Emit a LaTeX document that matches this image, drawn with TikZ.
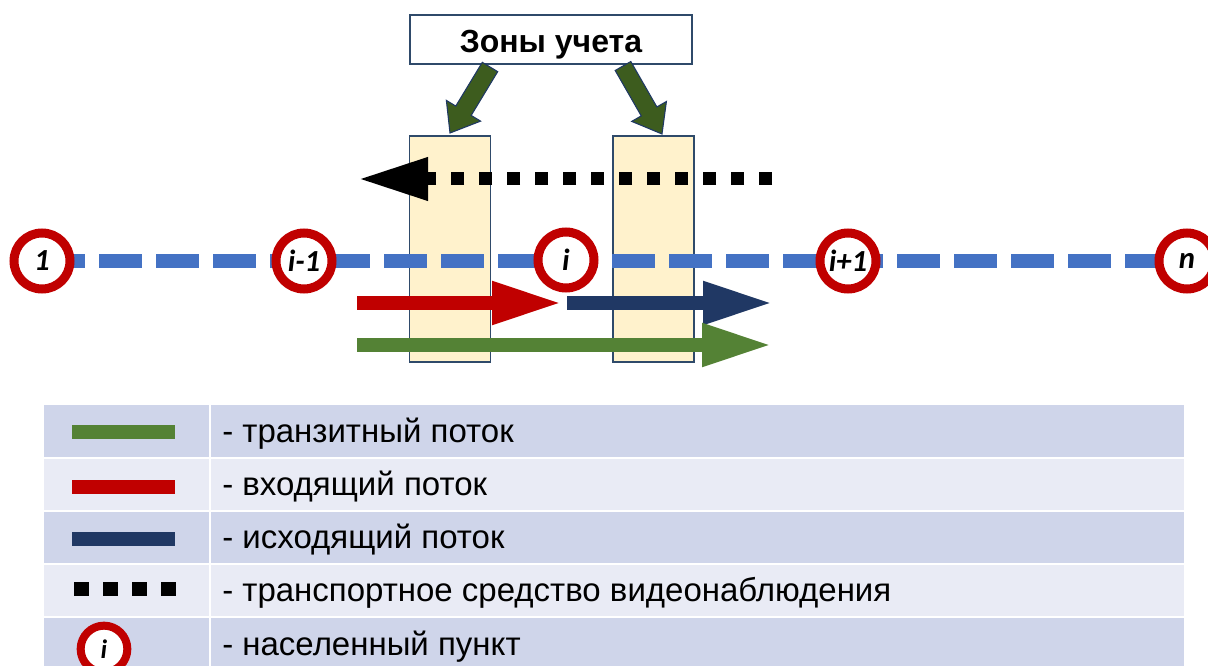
\documentclass[tikz,border=0pt]{standalone}
\usepackage{fontspec}
\setmainfont{Liberation Sans}
\newfontfamily\calib{Carlito}
\usetikzlibrary{arrows.meta,calc}
\definecolor{zonefill}{HTML}{FFF2CC}
\definecolor{zoneline}{HTML}{2F4A6A}
\definecolor{roadblue}{HTML}{4472C4}
\definecolor{ringred}{HTML}{C00000}
\definecolor{flowred}{HTML}{C00000}
\definecolor{flownavy}{HTML}{203864}
\definecolor{flowgreen}{HTML}{548235}
\definecolor{ptrgreen}{HTML}{3D5C1E}
\definecolor{ptrline}{HTML}{1F3864}
\definecolor{rowdark}{HTML}{CFD5EA}
\definecolor{rowlight}{HTML}{E9EBF5}
\pgfdeclarelayer{bg}
\pgfdeclarelayer{roadlayer}
\pgfsetlayers{bg,roadlayer,main}
\newcommand{\ptrarrow}[2]{%
  \path ($(#2)!19.5pt!(#1)$) coordinate (hb);
  \filldraw[pointer] ($(#1)!6.75pt!90:(#2)$) -- ($(hb)!6.75pt!90:(#2)$) -- ($(hb)!15pt!90:(#2)$) -- (#2)
    -- ($(hb)!15pt!-90:(#2)$) -- ($(hb)!6.75pt!-90:(#2)$) -- ($(#1)!6.75pt!-90:(#2)$) -- cycle;}
\begin{document}
\begin{tikzpicture}[x=0.75pt,y=-0.75pt,
  town/.style={circle, draw=ringred, fill=white, line width=6.75pt, minimum size=42pt, inner sep=0pt,
    font=\calib\bfseries\itshape\fontsize{23}{26}\selectfont},
  smalltown/.style={circle, draw=ringred, fill=white, line width=6pt, minimum size=35pt, inner sep=0pt,
    font=\calib\bfseries\itshape\fontsize{20}{22}\selectfont},
  zone/.style={draw=zoneline, fill=zonefill, line width=1.1pt, minimum width=60.75pt, minimum height=169.5pt, inner sep=0pt},
  titlebox/.style={draw=zoneline, fill=white, line width=1.1pt, minimum width=211.5pt, minimum height=36.75pt, inner sep=0pt,
    text height=18.8pt, text depth=0pt, font=\bfseries\fontsize{24}{28}\selectfont},
  pointer/.style={fill=ptrgreen, draw=ptrline, line width=0.8pt},
  road/.style={draw=roadblue, line width=10.5pt, dash pattern=on 32.25pt off 10.5pt},
  flow/.style={line width=10.5pt, -{Triangle[length=52.5pt, width=30pt]}},
  watch/.style={line width=9.75pt, dash pattern=on 9.75pt off 11.25pt, -{Triangle[length=52.5pt, width=30pt]}},
  legbar/.style={line width=10.5pt},
  legtext/.style={anchor=base west, inner sep=0pt, font=\fontsize{24.75}{28}\selectfont}]
\useasboundingbox (0,0) rectangle (1208,666);

% zones
\begin{pgfonlayer}{bg}
\node[zone] (zoneL) at (450,249) {};
\node[zone] (zoneR) at (653.5,249) {};
\end{pgfonlayer}

% title
\node[titlebox] (title) at (551,39.5) {Зоны учета};
\coordinate (pl0) at (490,67);
\coordinate (pl1) at (450,133);
\coordinate (pr0) at (623,66);
\coordinate (pr1) at (662,134);
\ptrarrow{pl0}{pl1}
\ptrarrow{pr0}{pr1}

% settlements
\node[town] (t1) at (42,261) {1};
\node[town] (tim) at (304,261) {i-1};
\node[town] (ti) at (566,260) {i};
\node[town] (tip) at (848,261) {i+1};
\node[town] (tn) at (1187,261) {n};
\begin{pgfonlayer}{roadlayer}
\draw[road] (t1.center) -- (tn.center);
\end{pgfonlayer}

% video surveillance vehicle
\coordinate (w0) at (772,179);
\coordinate (w1) at (358,179);
\draw[watch] (w0) -- (w1);

% flows
\coordinate (r0) at (357,303);
\coordinate (r1) at (562,303);
\coordinate (b0) at (567,303);
\coordinate (b1) at (773,303);
\coordinate (g0) at (357,345);
\coordinate (g1) at (772,345);
\draw[flow, flowred] (r0) -- (r1);
\draw[flow, flownavy] (b0) -- (b1);
\draw[flow, flowgreen] (g0) -- (g1);

% legend table
\fill[rowdark]  (44,405) rectangle (208.5,457);
\fill[rowdark]  (210.5,405) rectangle (1184,457);
\fill[rowlight] (44,459) rectangle (208.5,510);
\fill[rowlight] (210.5,459) rectangle (1184,510);
\fill[rowdark]  (44,512) rectangle (208.5,563);
\fill[rowdark]  (210.5,512) rectangle (1184,563);
\fill[rowlight] (44,565) rectangle (208.5,616);
\fill[rowlight] (210.5,565) rectangle (1184,616);
\fill[rowdark]  (44,618) rectangle (208.5,670);
\fill[rowdark]  (210.5,618) rectangle (1184,670);

\draw[legbar, flowgreen] (72,432) -- (175,432);
\draw[legbar, flowred] (72,487) -- (175,487);
\draw[legbar, flownavy] (72,539) -- (175,539);
\draw[line width=10.5pt, dash pattern=on 11.25pt off 10.5pt] (74,589) -- (176,589);
\node[smalltown] (legi) at (104,649) {i};

\node[legtext] (l1) at (222,443) {- транзитный поток};
\node[legtext] (l2) at (222,496) {- входящий поток};
\node[legtext] (l3) at (222,549) {- исходящий поток};
\node[legtext] (l4) at (222,602) {- транспортное средство видеонаблюдения};
\node[legtext] (l5) at (222,656) {- населенный пункт};
\end{tikzpicture}
\end{document}
